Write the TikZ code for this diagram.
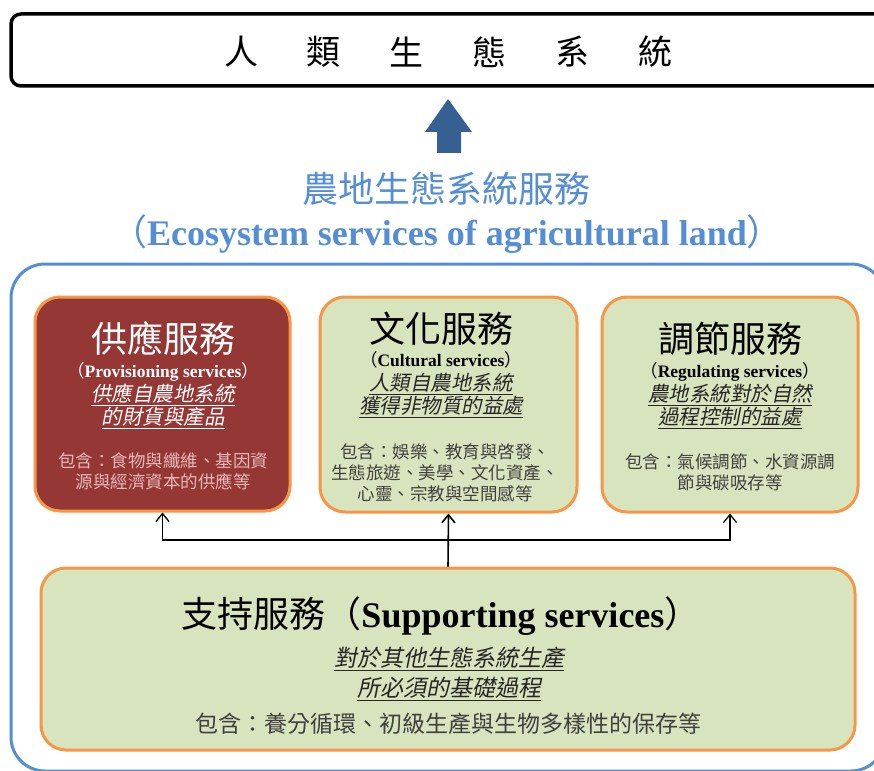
\documentclass[tikz,border=0pt]{standalone}
\usepackage{fontspec}
\setmainfont{Liberation Serif}
\newfontfamily\cjk{Noto Sans CJK TC}
\newfontfamily\cjkslant[FakeSlant=0.2]{Noto Sans CJK TC}
\usepackage{xcolor}
\usetikzlibrary{arrows,arrows.meta}
\usetikzlibrary{calc}
\usetikzlibrary{positioning}

\definecolor{frameblue}{RGB}{85,142,213}
\definecolor{arrowblue}{RGB}{55,96,146}
\definecolor{boxedge}{RGB}{247,150,70}
\definecolor{boxgreen}{RGB}{215,228,189}
\definecolor{boxred}{RGB}{149,55,53}
\definecolor{pinktext}{RGB}{230,185,184}
\definecolor{graytext}{RGB}{64,64,64}

\newcommand{\enparen}[1]{{\cjk （}{\rmfamily\bfseries #1}{\cjk ）}}
\newcommand{\gistul}[1]{\setbox0\hbox{#1}\leavevmode\rlap{\rule[-0.2em]{\wd0}{1.1pt}}\box0}

\begin{document}
\begin{tikzpicture}[x=1pt, y=-1pt, semithick, >={Straight Barb[length=8pt,width=13pt]}]
  \tikzstyle{svc}=[draw=boxedge, line width=3pt, rounded corners=25pt, inner sep=0pt]
  \tikzstyle{head}=[font=\cjk\fontsize{36}{40}\selectfont, inner sep=0pt]
  \tikzstyle{eng}=[font=\fontsize{17.5}{20}\selectfont, inner sep=0pt]
  \tikzstyle{gist}=[font=\cjkslant\fontsize{20.5}{23}\selectfont, align=center, inner sep=0pt, text=black!85]
  \tikzstyle{incl}=[font=\cjk\fontsize{17.5}{21}\selectfont, align=center, inner sep=0pt, text=graytext]
\useasboundingbox (0,0) rectangle (874,770);
\clip (0,0) rectangle (874,770);
    % human ecosystem
    \node[draw, line width=3.5pt, rounded corners=10pt, minimum width=875pt, minimum height=72pt] (human) at (448.5,50) {};
\foreach \ch [count=\i] in {人,類,生,態,系,統}{
    \node[font=\cjk\fontsize{34}{40}\selectfont] (c\i) at ({241+82.8*(\i-1)},52) {\ch};
      }
\fill[arrowblue] (437,153) -- (437,132) -- (425,132) -- (448,99) -- (472,132) -- (461,132) -- (461,153) -- cycle;
    \node[text=frameblue, font=\cjk\fontsize{36}{40}\selectfont] (agri) at (446,189) {農地生態系統服務};
    \node[text=frameblue, font=\fontsize{36}{40}\selectfont] (agrien) at (447,234) {\enparen{Ecosystem services of agricultural land}};
\draw[frameblue, line width=3pt, rounded corners=34pt] (11,264) rectangle (885,771);
    % the four services
    \node[svc, fill=boxred, minimum width=255pt, minimum height=214pt] (prov) at (162.5,404) {};
    \node[svc, fill=boxgreen, minimum width=257pt, minimum height=215pt] (cult) at (448.5,404.5) {};
    \node[svc, fill=boxgreen, minimum width=256pt, minimum height=215pt] (reg) at (730,404.5) {};
    \node[svc, fill=boxgreen, minimum width=814pt, minimum height=182pt] (sup) at (448,659) {};
\coordinate (fork) at (448,540);
\draw[->, line width=1.6pt] (sup.north) -- (cult.south);
\draw[->, line width=1.3pt] (fork) -| (prov.south);
\draw[->, line width=1.3pt] (fork) -| (reg.south);
    \node[head, text=white] (provT) at (163,338) {供應服務};
    \node[eng, text=white] (provE) at (163,372) {\enparen{Provisioning services}};
    \node[gist, text=white] (provG) at (163,406.5) {\gistul{供應自農地系統}\\\gistul{的財貨與產品}};
    \node[incl, text=pinktext] (provI) at (163,471) {包含：食物與纖維、基因資\\源與經濟資本的供應等};
    \node[head] (cultT) at (441,329) {文化服務};
    \node[eng] (cultE) at (441,360) {\enparen{Cultural services}};
    \node[gist] (cultG) at (441,395.5) {\gistul{人類自農地系統}\\\gistul{獲得非物質的益處}};
    \node[incl] (cultI) at (445,472.5) {包含：娛樂、教育與啓發、\\生態旅遊、美學、文化資產、\\心靈、宗教與空間感等};
    \node[head] (regT) at (730,339) {調節服務};
    \node[eng] (regE) at (730,372) {\enparen{Regulating services}};
    \node[gist] (regG) at (730,406.5) {\gistul{農地系統對於自然}\\\gistul{過程控制的益處}};
    \node[incl] (regI) at (730,472) {包含：氣候調節、水資源調\\節與碳吸存等};
    \node[head] (supT) at (441,616) {支持服務\enparen{Supporting services}};
    \node[gist, font=\cjkslant\fontsize{23}{30}\selectfont] (supG) at (449,674) {\gistul{對於其他生態系統生產}\\\gistul{所必須的基礎過程}};
    \node[incl, font=\cjk\fontsize{23}{26}\selectfont] (supI) at (448,724) {包含：養分循環、初級生產與生物多樣性的保存等};
   \end{tikzpicture}
\end{document}
